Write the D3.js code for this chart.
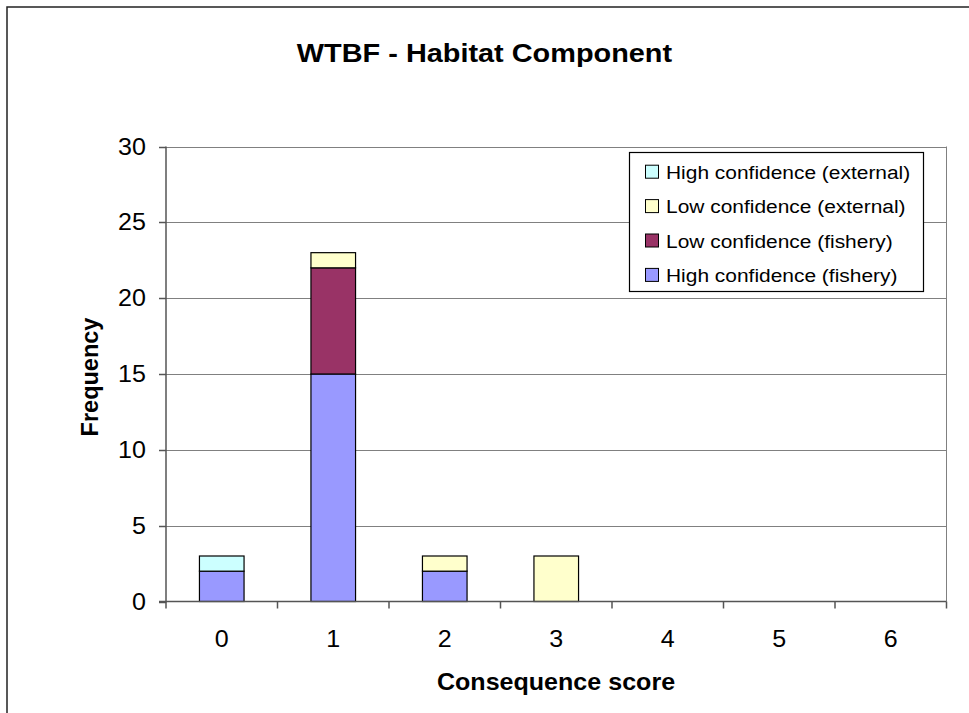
<!DOCTYPE html>
<html>
<head>
<meta charset="utf-8">
<script src="https://cdn.jsdelivr.net/npm/d3@7"></script>
<style>
  html, body { margin: 0; padding: 0; background: #fff; }
  svg { display: block; font-family: Arial, "Liberation Sans", sans-serif; }
</style>
</head>
<body>
<svg id="chart" width="969" height="713"></svg>
<script>
// Consequence scores on the x axis
const categories = ["0", "1", "2", "3", "4", "5", "6"];

// Counts per score for each confidence / source group (stacked bottom to top)
const highConfFishery = [2, 15, 2, 0, 0, 0, 0];
const lowConfFishery  = [0, 7, 0, 0, 0, 0, 0];
const lowConfExternal = [0, 1, 1, 3, 0, 0, 0];
const highConfExternal = [1, 0, 0, 0, 0, 0, 0];

const seriesNames = [
  "High confidence (fishery)",
  "Low confidence (fishery)",
  "Low confidence (external)",
  "High confidence (external)"
];
const seriesColors = ["#9999FF", "#993366", "#FFFFCC", "#CCFFFF"];
const yTicks = [0, 5, 10, 15, 20, 25, 30];

const rows = categories.map((c, i) => ({
  cat: c,
  [seriesNames[0]]: highConfFishery[i],
  [seriesNames[1]]: lowConfFishery[i],
  [seriesNames[2]]: lowConfExternal[i],
  [seriesNames[3]]: highConfExternal[i]
}));

const svg = d3.select("#chart");
const plot = { left: 166, right: 946.5, top: 146.5, bottom: 601.5 };
const sx = 1.09; // horizontal text stretch

// outer chart frame
svg.append("rect")
  .attr("x", 7).attr("y", 7)
  .attr("width", 1000).attr("height", 800)
  .attr("fill", "none").attr("stroke", "#222").attr("stroke-width", 1.5);

const x = d3.scaleBand().domain(categories).range([plot.left, plot.right]).paddingInner(0.6).paddingOuter(0.3);
const xEdge = d3.scaleLinear().domain([0, categories.length]).range([plot.left, plot.right]);
const y = d3.scaleLinear().domain([0, 30]).range([plot.bottom, plot.top]);

function stretchedText(g, tx, ty, str, anchor) {
  return g.append("text")
    .attr("transform", `translate(${tx},${ty}) scale(${sx},1)`)
    .attr("text-anchor", anchor)
    .text(str);
}

// gridlines
svg.append("g").selectAll("line").data(yTicks.filter(t => t > 0)).join("line")
  .attr("x1", plot.left).attr("x2", plot.right)
  .attr("y1", d => Math.round(y(d)) + 0.5).attr("y2", d => Math.round(y(d)) + 0.5)
  .attr("stroke", "#808080").attr("stroke-width", 1);

// plot area right edge
svg.append("line")
  .attr("x1", plot.right).attr("x2", plot.right)
  .attr("y1", plot.top).attr("y2", plot.bottom)
  .attr("stroke", "#808080");

// stacked bars
const stack = d3.stack().keys(seriesNames)(rows);
svg.append("g").selectAll("g").data(stack).join("g")
  .attr("fill", (d, i) => seriesColors[i])
  .selectAll("rect").data(d => d.filter(s => s[1] - s[0] > 0)).join("rect")
  .attr("x", d => x(d.data.cat))
  .attr("width", x.bandwidth())
  .attr("y", d => y(d[1]))
  .attr("height", d => y(d[0]) - y(d[1]))
  .attr("stroke", "#000").attr("stroke-width", 1.2);

// y axis
const yAxis = svg.append("g");
yAxis.append("line")
  .attr("x1", plot.left).attr("x2", plot.left)
  .attr("y1", plot.top).attr("y2", plot.bottom + 1)
  .attr("stroke", "#555").attr("stroke-width", 1.5);
yAxis.selectAll("line.tick").data(yTicks).join("line").attr("class", "tick")
  .attr("x1", plot.left - 7).attr("x2", plot.left)
  .attr("y1", d => Math.round(y(d)) + 0.5).attr("y2", d => Math.round(y(d)) + 0.5)
  .attr("stroke", "#555").attr("stroke-width", 1.5);
yTicks.forEach(t => {
  stretchedText(yAxis, 146, y(t) + 8, String(t), "end")
    .attr("font-size", 23).attr("fill", "#000");
});

// x axis
const xAxis = svg.append("g");
xAxis.append("line")
  .attr("x1", plot.left - 7).attr("x2", plot.right)
  .attr("y1", plot.bottom).attr("y2", plot.bottom)
  .attr("stroke", "#555").attr("stroke-width", 1.5);
xAxis.selectAll("line.tick").data(d3.range(categories.length + 1)).join("line").attr("class", "tick")
  .attr("x1", d => xEdge(d)).attr("x2", d => xEdge(d))
  .attr("y1", plot.bottom).attr("y2", plot.bottom + 7)
  .attr("stroke", "#555").attr("stroke-width", 1.5);
categories.forEach(c => {
  stretchedText(xAxis, x(c) + x.bandwidth() / 2, 647, c, "middle")
    .attr("font-size", 23).attr("fill", "#000");
});

// titles
stretchedText(svg, 484.5, 62, "WTBF - Habitat Component", "middle")
  .attr("font-size", 26.5).attr("font-weight", "bold");
stretchedText(svg, 556, 690, "Consequence score", "middle")
  .attr("font-size", 23).attr("font-weight", "bold");
svg.append("text")
  .attr("transform", `translate(98,${(plot.top + plot.bottom) / 2 + 3}) rotate(-90)`)
  .attr("text-anchor", "middle")
  .attr("font-size", 23.5).attr("font-weight", "bold")
  .text("Frequency");

// legend (top series first)
const legend = svg.append("g");
legend.append("rect")
  .attr("x", 629.5).attr("y", 152.5).attr("width", 294).attr("height", 139)
  .attr("fill", "#fff").attr("stroke", "#000").attr("stroke-width", 1.2);
const legendOrder = d3.range(seriesNames.length).reverse();
legendOrder.forEach((si, k) => {
  const cy = 171.7 + k * 34.4;
  legend.append("rect")
    .attr("x", 645.5).attr("y", cy - 6.5).attr("width", 13).attr("height", 13)
    .attr("fill", seriesColors[si]).attr("stroke", "#000").attr("stroke-width", 1);
  stretchedText(legend, 666, cy + 7, seriesNames[si], "start")
    .attr("font-size", 19.2).attr("fill", "#000");
});
</script>
</body>
</html>
